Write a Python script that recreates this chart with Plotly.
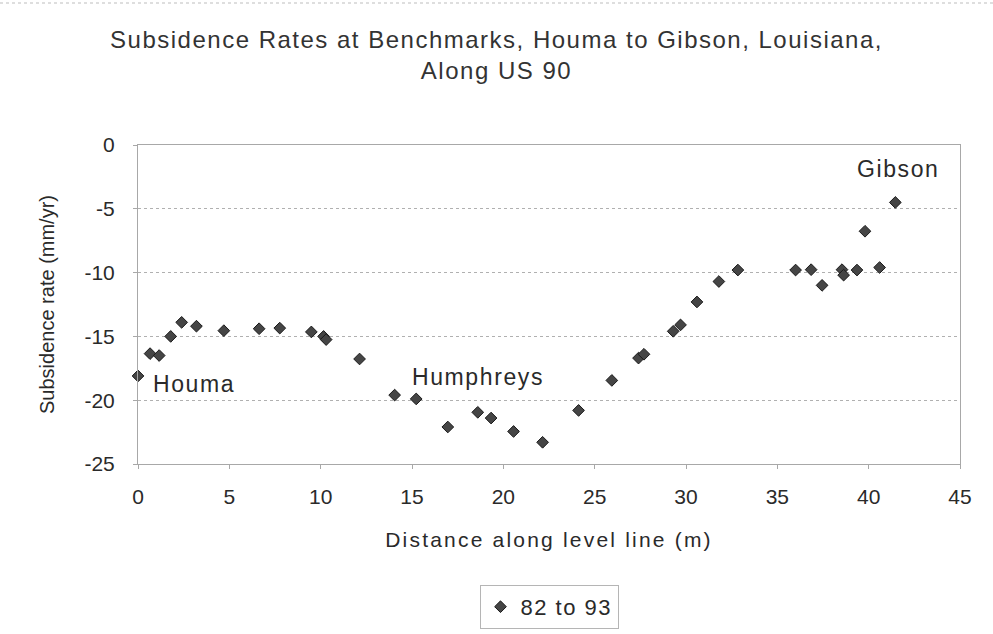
import plotly.graph_objects as go

# Data
distance_m = [0.0, 0.66, 1.16, 1.79, 2.39, 3.2, 4.7, 6.63, 7.76, 9.49, 10.16, 10.3,
              12.13, 14.05, 15.23, 16.96, 18.6, 19.33, 20.56, 22.15, 24.12, 25.94,
              27.4, 27.7, 29.3, 29.7, 30.6, 31.8, 32.84, 36.0, 36.85, 37.45,
              38.54, 38.63, 39.36, 39.8, 40.6, 41.46]
rate_mm_yr = [-18.1, -16.35, -16.5, -15.0, -13.9, -14.2, -14.55, -14.4, -14.35, -14.65,
              -15.0, -15.25, -16.77, -19.6, -19.9, -22.1, -20.95, -21.4, -22.45, -23.3,
              -20.8, -18.45, -16.7, -16.4, -14.6, -14.1, -12.3, -10.7, -9.8, -9.8,
              -9.77, -11.0, -9.77, -10.2, -9.8, -6.76, -9.6, -4.5]
series_name = "82 to 93"

place_names = ["Houma", "Humphreys", "Gibson"]
place_x = [0.72, 14.9, 39.25]
place_y = [-18.7, -18.2, -1.85]

y_tick_values = [-25, -20, -15, -10, -5, 0]
y_tick_labels = ["-25", "-20", "-15", "-10", "-5", "0"]

title_lines = ["Subsidence Rates at Benchmarks, Houma to Gibson, Louisiana,", "Along US 90"]
x_title = "Distance along level line (m)"
y_title = "Subsidence rate (mm/yr)"

FONT = "Liberation Sans, Arial, sans-serif"
INK = "#2a2a2a"


def spaced(text, px):
    return f'<span style="letter-spacing:{px}px">{text}</span>'


fig = go.Figure()
fig.add_trace(go.Scatter(
    x=distance_m, y=rate_mm_yr, mode="markers", name=spaced(series_name, 1.5),
    marker=dict(symbol="diamond", size=9, color="#454545",
                line=dict(color="#1a1a1a", width=1)),
    cliponaxis=False,
))

for name, px, py in zip(place_names, place_x, place_y):
    fig.add_annotation(x=px, y=py, text=spaced(name, 1.6), showarrow=False,
                       xanchor="left", yanchor="middle",
                       font=dict(family=FONT, size=23, color=INK))

fig.update_layout(
    width=993, height=634,
    paper_bgcolor="white", plot_bgcolor="white",
    margin=dict(l=138, r=33, t=145, b=170, autoexpand=False),
    font=dict(family=FONT, size=21, color=INK),
    title=dict(text="<br>".join(spaced(t, 1.5) for t in title_lines),
               x=0.5, xref="container", xanchor="center",
               y=1 - 48 / 634, yref="container", yanchor="top",
               font=dict(family=FONT, size=24, color="#333333")),
    showlegend=True,
    legend=dict(orientation="h", x=0.5, xanchor="center", y=-0.379, yanchor="top",
                bordercolor="#b5b5b5", borderwidth=1,
                font=dict(family=FONT, size=22, color=INK)),
    xaxis=dict(range=[0, 45], dtick=5, tick0=0, showgrid=False, zeroline=False,
               showline=True, linecolor="#a8a8a8", linewidth=1, mirror=True,
               ticks="outside", ticklen=4, tickcolor="#a8a8a8",
               ticklabelstandoff=10,
               tickfont=dict(family=FONT, size=21, color=INK),
               title=dict(text=spaced(x_title, 2.2), standoff=25,
                          font=dict(family=FONT, size=21, color=INK))),
    yaxis=dict(range=[-25, 0], tickvals=y_tick_values, ticktext=y_tick_labels,
               showgrid=True, gridcolor="#b0b0b0", griddash="dot", gridwidth=1,
               zeroline=False,
               showline=True, linecolor="#a8a8a8", linewidth=1, mirror=True,
               ticks="outside", ticklen=4, tickcolor="#a8a8a8",
               ticklabelstandoff=14,
               tickfont=dict(family=FONT, size=21, color=INK),
               title=dict(text=y_title, standoff=24,
                          font=dict(family=FONT, size=20, color=INK))),
)

# faint dotted chart-border line at the very top
fig.add_shape(type="line", xref="paper", yref="paper", x0=-138 / 822, x1=1 + 33 / 822,
              y0=1 + 142 / 319, y1=1 + 142 / 319,
              line=dict(color="#bdbdbd", width=1, dash="dot"))

fig.write_html("out.html", config={"displayModeBar": False},
               post_script="document.body.style.margin='0';")
